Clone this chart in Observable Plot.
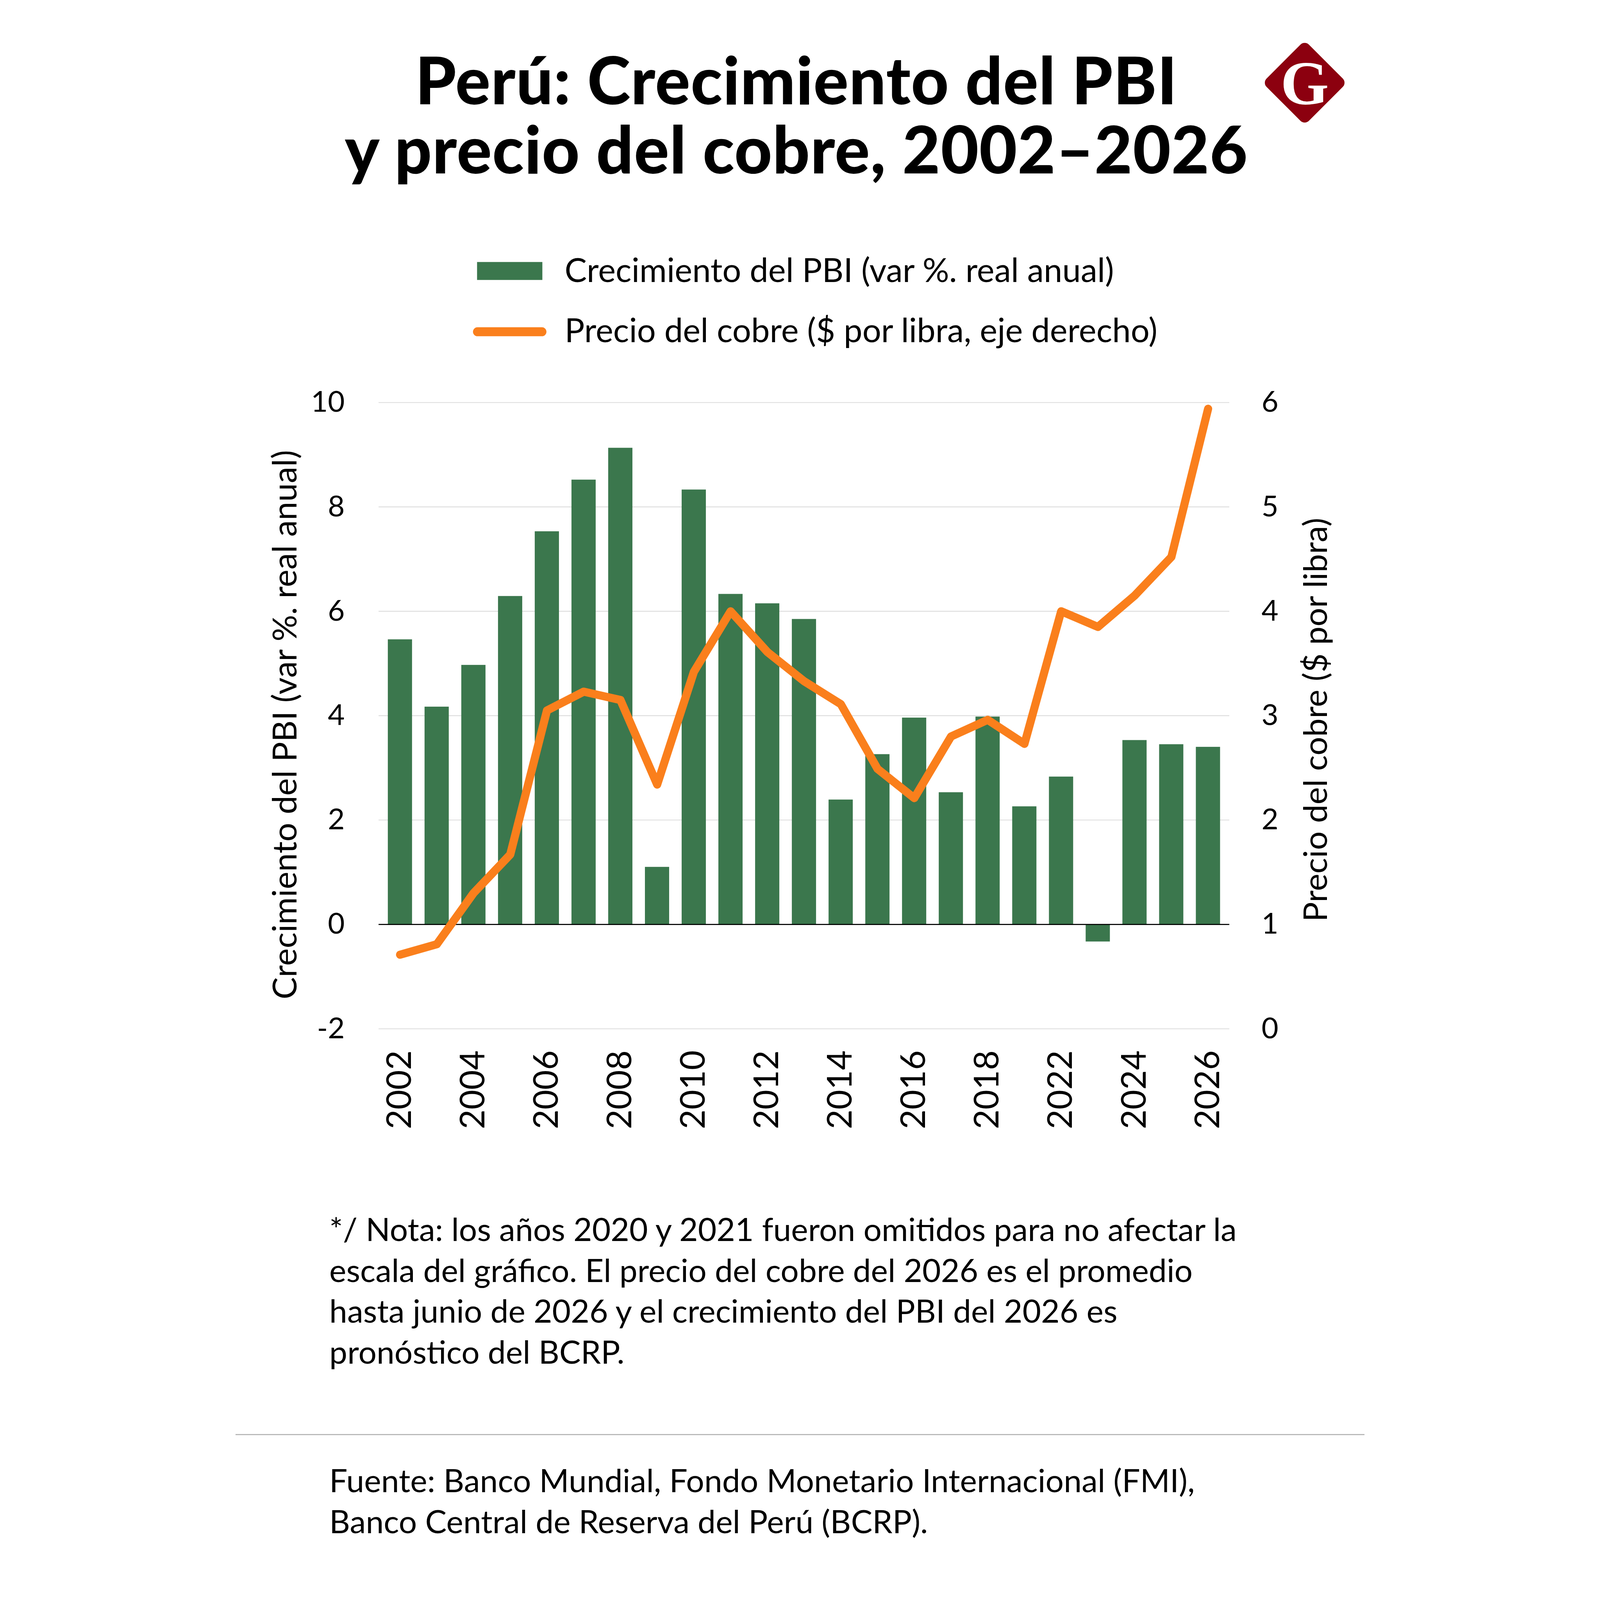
<!DOCTYPE html>
<html>
<head>
<meta charset="utf-8">
<script src="https://cdn.jsdelivr.net/npm/d3@7"></script>
<script src="https://cdn.jsdelivr.net/npm/@observablehq/plot@0.6"></script>
<style>
  html, body { margin: 0; padding: 0; background: #fff; overflow: hidden; width: 100%; height: 100%; }
  #page { position: absolute; left: 0; top: 0; width: 4150px; height: 5881px; background: #fff; font-family: Lato, "Noto Sans", sans-serif; color: #000; overflow: hidden; transform-origin: 0 0; }
  .abs { position: absolute; white-space: nowrap; }
  .title { left: 0; width: 4124px; text-align: center; font-weight: 900; font-size: 240px; line-height: 240px; letter-spacing: 2px; }
  .leg { font-size: 122px; line-height: 122px; }
  #note, #source { left: 345px; font-size: 118px; line-height: 150px; }
  #chart { position: absolute; left: 0; top: 1300px; }
</style>
</head>
<body>
<div id="page">
  <div class="abs title" style="top:170px">Perú: Crecimiento del PBI</div>
  <div class="abs title" style="top:425px">y precio del cobre, 2002–2026</div>
  <svg class="abs" style="left:3700px;top:100px" width="450" height="420" viewBox="0 0 450 420">
    <rect x="-110" y="-110" width="220" height="220" rx="22" fill="#8c000f" transform="translate(230,204) rotate(45)"></rect>
    <text x="230" y="282" text-anchor="middle" font-family="'Liberation Serif', 'DejaVu Serif', serif" font-weight="bold" font-size="228" fill="#fff">G</text>
  </svg>
  <div class="abs" style="left:888px;top:963px;width:240px;height:66px;background:#3b774d"></div>
  <div class="abs leg" style="left:1210px;top:928px">Crecimiento del PBI (var %. real anual)</div>
  <div class="abs" style="left:873px;top:1203px;width:270px;height:33px;background:#fa7f1c;border-radius:17px"></div>
  <div class="abs leg" style="left:1210px;top:1150px">Precio del cobre ($ por libra, eje derecho)</div>
  <div id="chart"></div>
  <div id="note" class="abs" style="top:4442px">*/ Nota: los años 2020 y 2021 fueron omitidos para no afectar la<br>escala del gráfico. El precio del cobre del 2026 es el promedio<br>hasta junio de 2026 y el crecimiento del PBI del 2026 es<br>pronóstico del BCRP.</div>
  <div class="abs" style="left:0;top:5271px;width:4150px;height:4px;background:#b5b5b5"></div>
  <div id="source" class="abs" style="top:5365px">Fuente: Banco Mundial, Fondo Monetario Internacional (FMI),<br>Banco Central de Reserva del Perú (BCRP).</div>
</div>
<script>
// Data
const years = ["2002","2003","2004","2005","2006","2007","2008","2009","2010","2011","2012","2013","2014","2015","2016","2017","2018","2019","2022","2023","2024","2025","2026"];
const pbi = [5.46,4.17,4.97,6.29,7.53,8.52,9.13,1.10,8.33,6.33,6.15,5.85,2.39,3.26,3.96,2.53,3.98,2.26,2.83,-0.33,3.53,3.45,3.40];
const cobre = [0.71,0.81,1.30,1.67,3.05,3.23,3.15,2.34,3.42,4.00,3.61,3.33,3.11,2.49,2.21,2.80,2.96,2.73,4.00,3.85,4.15,4.52,5.94];
const leftTicks = [-2,0,2,4,6,8,10];
const rightTicks = [0,1,2,3,4,5,6];
const yearTicks = years.filter((d, i) => i % 2 === 0);
const yLabel = "Crecimiento del PBI (var %. real anual)";
const y2Label = "Precio del cobre ($ por libra)";

const data = years.map((y, i) => ({year: y, pbi: pbi[i], cobre: cobre[i]}));
// right axis (copper) mapped onto left scale: 0..6 <-> -2..10
const toLeft = c => (c - 1) * 2;

const GREEN = "#3b774d", ORANGE = "#fa7f1c";

const chart = Plot.plot({
  width: 4150,
  height: 2900,
  marginTop: 179,
  marginBottom: 419,
  marginLeft: 526,
  marginRight: 497,
  style: {fontFamily: "Lato, 'Noto Sans', sans-serif", color: "#000", background: "transparent", overflow: "visible"},
  x: {type: "band", domain: years, paddingInner: 0.34, paddingOuter: 0.18},
  y: {domain: [-2, 10]},
  marks: [
    Plot.gridY(leftTicks, {stroke: "#dcdcdc", strokeOpacity: 1, strokeWidth: 3}),
    Plot.barY(data, {x: "year", y: "pbi", fill: GREEN}),
    Plot.ruleY([0], {stroke: "#000", strokeWidth: 4}),
    Plot.line(data, {x: "year", y: d => toLeft(d.cobre), stroke: ORANGE, strokeWidth: 30, strokeLinecap: "round", strokeLinejoin: "round"}),
    Plot.axisY(leftTicks, {anchor: "left", tickSize: 0, tickPadding: 125, fontSize: 107, tickFormat: d => String(d), label: null}),
    Plot.axisY(rightTicks.map(toLeft), {anchor: "right", tickSize: 0, tickPadding: 118, fontSize: 107, tickFormat: (d, i) => String(rightTicks[i]), label: null}),
    Plot.axisX(yearTicks, {tickSize: 0, tickPadding: 79, tickRotate: -90, fontSize: 125, label: null}),
    Plot.text([yLabel], {frameAnchor: "left", textAnchor: "middle", dx: -341, dy: 33, rotate: -90, fontSize: 122, fill: "#000"}),
    Plot.text([y2Label], {frameAnchor: "right", textAnchor: "middle", dx: 320, dy: 15, rotate: -90, fontSize: 121, fill: "#000"})
  ]
});
document.getElementById("chart").appendChild(chart);

// Fit the 4150x5881 design into the actual window (the sandbox may cap the window size)
function fit() {
  const page = document.getElementById("page");
  const s = Math.min(1, window.innerWidth / 4150, window.innerHeight / 5881);
  const left = Math.max(0, (window.innerWidth - 4150 * s) / 2);
  page.style.transform = `translate(${left}px, 0px) scale(${s})`;
}
fit();
window.addEventListener("resize", fit);
</script>
</body>
</html>
